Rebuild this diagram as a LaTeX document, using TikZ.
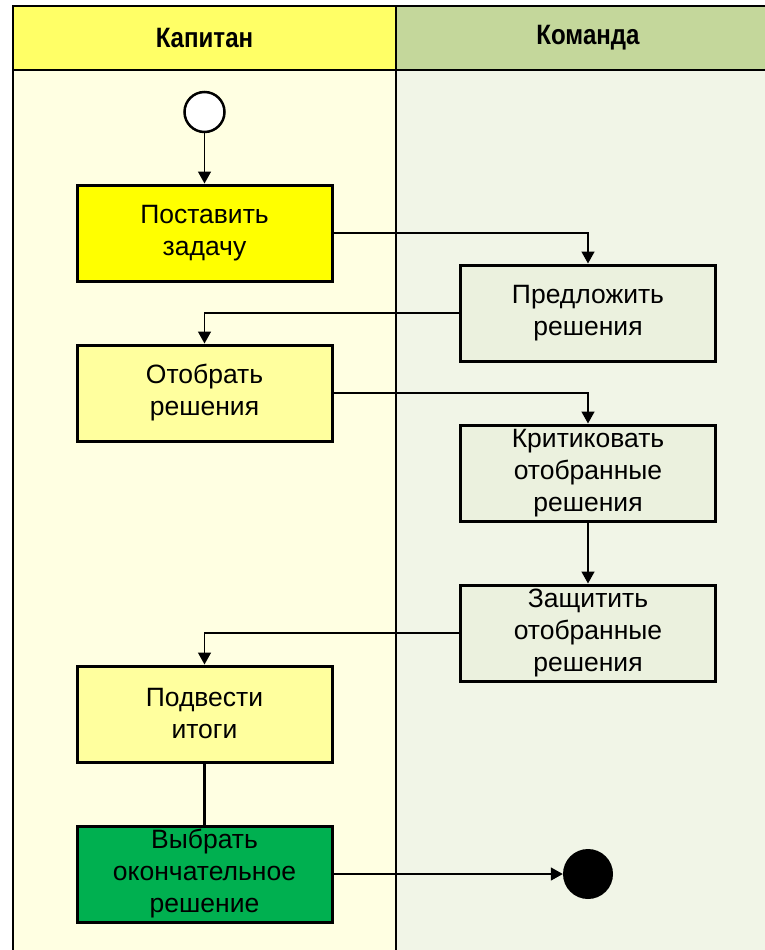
\documentclass[tikz,border=0pt]{standalone}
\usepackage{fontspec}
\setmainfont{Liberation Sans}
\newfontfamily\hdrfont[FakeStretch=0.86]{Liberation Sans}
\usetikzlibrary{arrows.meta}
\definecolor{hdrY}{HTML}{FFFF66}
\definecolor{hdrG}{HTML}{C4D79B}
\definecolor{laneY}{HTML}{FFFFE2}
\definecolor{laneG}{HTML}{F1F5E7}
\definecolor{boxY}{HTML}{FFFF00}
\definecolor{boxLY}{HTML}{FFFF9E}
\definecolor{boxG}{HTML}{EBF1DE}
\definecolor{boxDG}{HTML}{00B050}
\tikzset{
  actbox/.style={draw=black, line width=3pt, minimum width=255pt, minimum height=96pt,
    inner sep=0pt, align=center, font=\fontsize{26.5}{32}\selectfont},
  hdr/.style={font=\hdrfont\fontsize{28}{32}\selectfont\bfseries},
  flow/.style={line width=1.5pt, -{Triangle[length=12pt,width=13pt]}},
}
\begin{document}
\begin{tikzpicture}[x=1pt,y=-1pt]
\useasboundingbox (0,0) rectangle (765,950);
% lanes
\fill[laneY] (13,70) rectangle (396,950);
\fill[laneG] (396,70) rectangle (765,950);
\fill[hdrY] (13,6) rectangle (396,70);
\fill[hdrG] (396,6) rectangle (765,70);
\draw[line width=2pt] (765,6) -- (13,6) -- (13,950);
\draw[line width=2pt] (396,6) -- (396,950);
\draw[line width=2pt] (13,70) -- (765,70);
\node[hdr] (h1) at (204.5,38) {Капитан};
\node[hdr] (h2) at (588,38) {Команда};
% nodes
\node[draw, line width=2.5pt, circle, minimum size=40pt, inner sep=0pt, fill=white] (start) at (204.5,112) {};
\node[actbox, fill=boxY] (b1) at (204.5,233) {Поставить\\задачу};
\node[actbox, fill=boxG] (b2) at (588,313) {Предложить\\решения};
\node[actbox, fill=boxLY] (b3) at (204.5,393) {Отобрать\\решения};
\node[actbox, fill=boxG] (b4) at (588,473) {Критиковать\\отобранные\\решения};
\node[actbox, fill=boxG] (b5) at (588,633) {Защитить\\отобранные\\решения};
\node[actbox, fill=boxLY] (b6) at (204.5,714) {Подвести\\итоги};
\node[actbox, fill=boxDG] (b7) at (204.5,874) {Выбрать\\окончательное\\решение};
\node[circle, fill=black, minimum size=50pt, inner sep=0pt] (end) at (588,874) {};
% connectors
\draw[flow] (start) -- (b1);
\draw[flow] (b1.east) -| (b2.north);
\draw[flow] (b2.west) -| (b3.north);
\draw[flow] (b3.east) -| (b4.north);
\draw[flow] (b4) -- (b5);
\draw[flow] (b5.west) -| (b6.north);
\draw[line width=3pt] (b6) -- (b7);
\draw[flow] (b7) -- (end);
\end{tikzpicture}
\end{document}
